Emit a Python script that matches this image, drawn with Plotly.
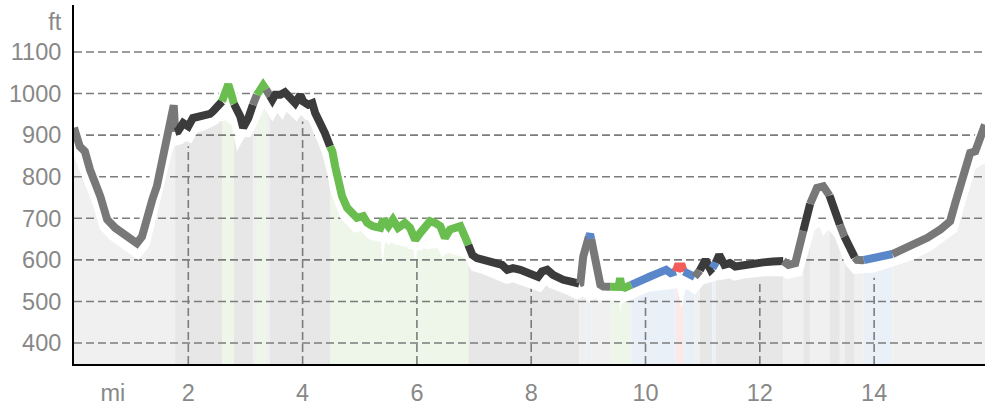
import numpy as np
import plotly.graph_objects as go

# ---------------- data ----------------
MILES = [0.00, 0.10, 0.19, 0.28, 0.46, 0.58, 0.72, 0.89, 1.10, 1.19, 1.28, 1.37, 1.45, 1.54, 1.63, 1.72,
         1.745, 1.77, 1.82, 1.91, 2.00, 2.08, 2.21, 2.29, 2.38, 2.43, 2.52, 2.59, 2.64, 2.70, 2.75, 2.80,
         2.85, 2.91, 2.96, 3.05, 3.13, 3.20, 3.26, 3.31, 3.36, 3.40, 3.47, 3.52, 3.61, 3.69, 3.78, 3.87,
         3.96, 4.01, 4.10, 4.17, 4.22, 4.31, 4.39, 4.48, 4.52, 4.57, 4.62, 4.69, 4.78, 4.87, 4.95, 5.06,
         5.13, 5.23, 5.36, 5.41, 5.50, 5.58, 5.67, 5.71, 5.79, 5.88, 5.97, 6.06, 6.14, 6.23, 6.32, 6.41,
         6.49, 6.58, 6.67, 6.76, 6.84, 6.90, 6.97, 7.05, 7.16, 7.28, 7.40, 7.49, 7.58, 7.68, 7.81, 7.93,
         8.03, 8.12, 8.19, 8.28, 8.38, 8.47, 8.56, 8.68, 8.80, 8.86, 8.91, 8.98, 9.03, 9.08, 9.15, 9.21,
         9.26, 9.35, 9.42, 9.53, 9.555, 9.58, 9.64, 9.75, 9.91, 10.08, 10.22, 10.36, 10.44, 10.53, 10.56,
         10.64, 10.67, 10.75, 10.84, 10.89, 10.98, 11.05, 11.14, 11.20, 11.25, 11.29, 11.38, 11.48, 11.57,
         11.71, 11.88, 12.06, 12.23, 12.39, 12.50, 12.62, 12.67, 12.74, 12.79, 12.85, 12.92, 13.00, 13.11,
         13.19, 13.27, 13.35, 13.44, 13.53, 13.62, 13.70, 13.79, 13.93, 14.07, 14.32, 14.63, 14.93, 15.16,
         15.33, 15.42, 15.51, 15.59, 15.68, 15.77, 15.82, 15.89, 15.94]

ELEV_FT = [918, 873, 861, 817, 753, 697, 677, 660, 640, 656, 705, 745, 777, 841, 897, 954,
           972, 908, 910, 929, 921, 941, 945, 949, 951, 957, 973, 981, 1000, 1022, 1000, 975,
           960, 945, 918, 941, 973, 997, 1012, 1020, 1010, 1001, 985, 997, 997, 1003, 989, 977,
           997, 981, 973, 977, 953, 929, 905, 873, 861, 825, 785, 753, 725, 713, 701, 705,
           689, 681, 677, 697, 681, 697, 677, 681, 689, 677, 648, 665, 677, 693, 689, 681,
           653, 673, 677, 681, 656, 636, 612, 604, 600, 592, 592, 588, 576, 580, 576, 568,
           560, 559, 572, 576, 564, 556, 552, 548, 540, 544, 608, 648, 662, 632, 592, 540,
           536, 536, 534, 535, 556, 536, 533, 540, 552, 560, 568, 576, 568, 572, 584,
           584, 572, 566, 556, 564, 580, 600, 576, 584, 600, 612, 588, 592, 584,
           588, 591, 594, 596, 599, 588, 592, 616, 656, 689, 721, 753, 773, 777,
           765, 737, 705, 668, 641, 612, 600, 599, 602, 607, 614, 632, 653, 673,
           693, 737, 777, 821, 857, 861, 881, 917, 925]

GROUND_MILES = [0.00, 0.25, 0.50, 0.75, 1.00, 1.15, 1.30, 1.50, 1.65, 1.77, 1.82, 2.00, 2.15, 2.30, 2.45,
                2.55, 2.65, 2.75, 2.85, 2.95, 3.10, 3.22, 3.32, 3.45, 3.55, 3.65, 3.72, 3.85, 4.00, 4.15,
                4.25, 4.40, 4.50, 4.60, 4.70, 4.85, 5.00, 5.20, 5.36, 5.40, 5.45, 5.55, 5.75, 5.93, 5.97,
                6.02, 6.20, 6.35, 6.55, 6.80, 6.92, 7.16, 7.40, 7.70, 8.00, 8.50, 8.80, 9.03, 9.20, 9.35,
                9.52, 9.56, 9.60, 9.75, 10.00, 10.30, 10.55, 10.63, 10.70, 11.00, 11.30, 11.60, 12.00,
                12.40, 12.60, 12.80, 12.95, 13.05, 13.10, 13.20, 13.30, 13.45, 13.60, 13.75, 14.00, 14.30,
                14.90, 15.30, 15.45, 15.60, 15.75, 15.94]
GROUND_FT = [845, 790, 715, 650, 618, 616, 665, 765, 845, 875, 878, 885, 905, 912, 922,
             932, 935, 925, 860, 885, 920, 955, 968, 950, 955, 935, 955, 955, 945, 930,
             905, 855, 790, 725, 705, 690, 680, 665, 650, 578, 650, 640, 632, 630, 584,
             630, 625, 628, 616, 606, 590, 576, 566, 555, 548, 535, 524, 497, 515, 516,
             515, 468, 515, 520, 522, 527, 531, 480, 528, 540, 552, 557, 560,
             560, 562, 636, 672, 678, 656, 672, 656, 624, 588, 571, 569, 584,
             624, 662, 713, 769, 817, 832]

# (surface type, start mile, end mile)
SEGMENTS = [("gray", 0.00, 1.77), ("dark", 1.77, 2.59), ("green", 2.59, 2.80), ("dark", 2.80, 3.13),
            ("gray", 3.13, 3.20), ("green", 3.20, 3.36), ("gray", 3.36, 3.43), ("dark", 3.43, 4.48),
            ("green", 4.48, 6.90), ("dark", 6.90, 8.84), ("gray", 8.84, 9.01), ("blue", 9.01, 9.05),
            ("gray", 9.05, 9.38), ("green", 9.38, 9.75), ("blue", 9.75, 10.53), ("red", 10.53, 10.67),
            ("blue", 10.67, 10.86), ("gray", 10.86, 10.95), ("dark", 10.95, 11.17), ("blue", 11.17, 11.23),
            ("dark", 11.23, 12.41), ("gray", 12.41, 12.76), ("dark", 12.76, 12.88), ("gray", 12.88, 13.22),
            ("dark", 13.22, 13.40), ("gray", 13.40, 13.48), ("dark", 13.48, 13.66), ("gray", 13.66, 13.82),
            ("blue", 13.82, 14.32), ("gray", 14.32, 15.94)]

Y_TICKS = [400, 500, 600, 700, 800, 900, 1000, 1100]
X_TICKS = [2, 4, 6, 8, 10, 12, 14]
X_UNIT = ("mi", 0.68)
Y_UNIT = ("ft", 1173)

# ---------------- styling ----------------
LINE_COLORS = {"gray": "#787878", "dark": "#3b3b3b", "green": "#6abd4f", "blue": "#5a87ca", "red": "#f45c5c"}
FILL_COLORS = {"gray": "#f0f0f0", "dark": "#e7e7e7", "green": "#eef5e9", "blue": "#eaf0f8", "red": "#fbe8e8"}
GRID_COLOR = "#7c7c7c"
LABEL_COLOR = "#888888"
FONT = "Liberation Sans, Arial, sans-serif"
X_RANGE = [0, 15.94]
Y_RANGE = [349.5, 1213]
SHADOW_OFFSET = 14   # ft, white halo under the line
VGRID_GAP = 12       # ft below ground where vertical grid stops

mi = np.array(MILES)
el = np.array(ELEV_FT, dtype=float)
gm = np.array(GROUND_MILES)
gf = np.array(GROUND_FT, dtype=float)


def seg_points(xs_all, ys_all, a, b):
    inner = (xs_all > a) & (xs_all < b)
    xs = np.concatenate([[a], xs_all[inner], [b]])
    ys = np.concatenate([[np.interp(a, xs_all, ys_all)], ys_all[inner], [np.interp(b, xs_all, ys_all)]])
    return xs, ys


fig = go.Figure()

# ground fill per surface
for kind, a, b in SEGMENTS:
    xs, ys = seg_points(gm, gf, a, b)
    fig.add_trace(go.Scatter(x=xs, y=ys, mode="lines", fill="tozeroy",
                             fillcolor=FILL_COLORS[kind],
                             line=dict(width=0.5, color=FILL_COLORS[kind]),
                             hoverinfo="skip"))

# horizontal grid (over fill)
hx, hy = [], []
for v in Y_TICKS:
    hx += [X_RANGE[0], X_RANGE[1], None]
    hy += [v, v, None]
fig.add_trace(go.Scatter(x=hx, y=hy, mode="lines",
                         line=dict(color=GRID_COLOR, width=1.6, dash="8px,4px"), hoverinfo="skip"))

# vertical grid (only inside ground)
vx, vy = [], []
for t in X_TICKS:
    vx += [t, t, None]
    vy += [Y_RANGE[0], float(np.interp(t, gm, gf)) - VGRID_GAP, None]
fig.add_trace(go.Scatter(x=vx, y=vy, mode="lines",
                         line=dict(color=GRID_COLOR, width=1.6, dash="8px,4px"), hoverinfo="skip"))

# white halo
fig.add_trace(go.Scatter(x=mi, y=el - SHADOW_OFFSET, mode="lines",
                         line=dict(color="white", width=16), hoverinfo="skip"))

# coloured profile line
for kind, a, b in SEGMENTS:
    xs, ys = seg_points(mi, el, a, b)
    fig.add_trace(go.Scatter(x=xs, y=ys, mode="lines",
                             line=dict(color=LINE_COLORS[kind], width=8), hoverinfo="skip"))

axis_font = dict(family=FONT, size=23.5, color=LABEL_COLOR)
fig.update_layout(
    width=993, height=405,
    margin=dict(l=74, r=8, t=5, b=41, autoexpand=False),
    paper_bgcolor="white", plot_bgcolor="white",
    showlegend=False,
    xaxis=dict(range=X_RANGE, showgrid=False, zeroline=False, showline=True, automargin=False,
               linecolor="black", linewidth=2, ticks="",
               tickvals=[X_UNIT[1]] + X_TICKS, ticktext=[X_UNIT[0]] + [str(t) for t in X_TICKS],
               tickfont=axis_font, ticklabelstandoff=7),
    yaxis=dict(range=Y_RANGE, showgrid=False, zeroline=False, showline=True, automargin=False,
               linecolor="black", linewidth=2, ticks="",
               tickvals=Y_TICKS + [Y_UNIT[1]], ticktext=[str(v) for v in Y_TICKS] + [Y_UNIT[0]],
               tickfont=axis_font, ticklabelstandoff=6),
)

fig.write_html("out.html", config={"displayModeBar": False},
               post_script="document.body.style.margin='0px';document.body.style.overflow='hidden';")
